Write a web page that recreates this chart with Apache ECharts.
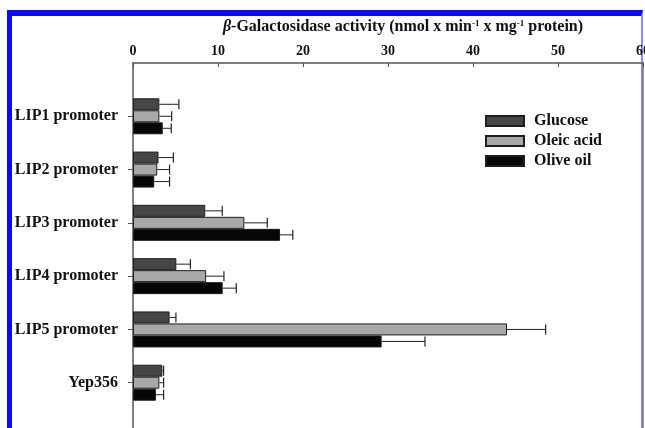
<!DOCTYPE html>
<html>
<head>
<meta charset="utf-8">
<script src="https://cdn.jsdelivr.net/npm/echarts@6/dist/echarts.min.js"></script>
<style>
  html, body { margin: 0; padding: 0; background: #ffffff; }
  #frame { position: absolute; left: 7px; top: 10px; width: 636px; height: 418px;
           border-left: 5px solid #0a0af5; border-top: 6px solid #0a0af5; border-right: 2px solid #8c8cf0; box-sizing: border-box; }
  #chart { position: absolute; left: 0; top: 0; width: 645px; height: 428px; }
</style>
</head>
<body>
<div id="frame"></div>
<div id="chart"></div>
<script>
const categories = ['LIP1 promoter', 'LIP2 promoter', 'LIP3 promoter', 'LIP4 promoter', 'LIP5 promoter', 'Yep356'];
const seriesNames = ['Glucose', 'Oleic acid', 'Olive oil'];
const glucose   = [3.1, 3.0, 8.5, 5.1, 4.3, 3.45];
const oleicAcid = [3.1, 2.85, 13.1, 8.6, 44.0, 3.1];
const oliveOil  = [3.5, 2.5, 17.3, 10.55, 29.25, 2.7];
const glucoseErrTop   = [5.4, 4.75, 10.5, 6.75, 5.05, 3.6];
const oleicAcidErrTop = [4.55, 4.3, 15.8, 10.7, 48.55, 3.6];
const oliveOilErrTop  = [4.5, 4.3, 18.8, 12.15, 34.35, 3.6];
const xTicks = [0, 10, 20, 30, 40, 50, 60];

const values = [glucose, oleicAcid, oliveOil];
const errs = [glucoseErrTop, oleicAcidErrTop, oliveOilErrTop];
const colors = ['#464646', '#a8a8a8', '#060606'];
const BAR_W = 12;
const axisCats = [''].concat(categories, ['']);
const serif = 'Liberation Serif';

const chart = echarts.init(document.getElementById('chart'), null, { renderer: 'canvas' });

const series = [];
values.forEach((vals, s) => {
  series.push({
    name: seriesNames[s],
    type: 'bar',
    barWidth: BAR_W,
    barGap: '0%',
    itemStyle: { color: colors[s], borderColor: '#1e1e1e', borderWidth: 1 },
    data: vals.map((v, i) => [v, categories[i]])
  });
});
values.forEach((vals, s) => {
  series.push({
    name: 'err' + s,
    type: 'custom',
    z: 3,
    renderItem: function (params, api) {
      const cat = api.value(1);
      const pStart = api.coord([api.value(2), cat]);
      const pEnd = api.coord([api.value(0), cat]);
      const off = (s - 1) * BAR_W;
      const y = pStart[1] + off;
      const half = 5;
      return {
        type: 'group',
        children: [
          { type: 'line', shape: { x1: pStart[0], y1: y, x2: pEnd[0], y2: y }, style: { stroke: '#222', lineWidth: 1 } },
          { type: 'line', shape: { x1: pEnd[0], y1: y - half, x2: pEnd[0], y2: y + half }, style: { stroke: '#222', lineWidth: 1.2 } }
        ]
      };
    },
    encode: { x: 0, y: 1 },
    data: errs[s].map((e, i) => [e, categories[i], vals[i]])
  });
});

chart.setOption({
  animation: false,
  backgroundColor: 'transparent',
  grid: { left: 133, right: 2, top: 63, bottom: -8, containLabel: false, outerBoundsMode: 'none' },
  legend: {
    data: seriesNames,
    orient: 'vertical',
    left: 485, top: 113, padding: 0,
    icon: 'rect',
    itemWidth: 38, itemHeight: 10, itemGap: 4,
    textStyle: { fontFamily: serif, fontWeight: 'bold', fontSize: 16, color: '#111', padding: [0, 0, 0, 5] }
  },
  xAxis: [{
    type: 'value', position: 'top', min: 0, max: 60, interval: 10,
    name: '{i|β}-Galactosidase activity (nmol x min{s|-1} x mg{s|-1} protein)',
    nameLocation: 'middle', nameGap: 28,
    nameTextStyle: {
      fontFamily: serif, fontWeight: 'bold', fontSize: 16, color: '#111', padding: [0, 0, 0, 30],
      rich: {
        i: { fontFamily: serif, fontWeight: 'bold', fontStyle: 'italic', fontSize: 16, color: '#111' },
        s: { fontFamily: serif, fontWeight: 'bold', fontSize: 9, color: '#111', padding: [0, 0, 7, 0] }
      }
    },
    axisLine: { show: true, lineStyle: { color: '#555', width: 1.5 } },
    axisTick: { show: true, inside: true, length: 4, lineStyle: { color: '#555' } },
    axisLabel: { fontFamily: serif, fontWeight: 'bold', fontSize: 14, color: '#111', margin: 5,
                 formatter: v => (xTicks.indexOf(v) >= 0 ? String(v) : '') },
    splitLine: { show: false }
  }],
  yAxis: [{
    type: 'category', inverse: true, boundaryGap: false, data: axisCats,
    axisLine: { show: true, lineStyle: { color: '#555', width: 1.5 } },
    axisTick: { show: true, length: 5, interval: (idx, v) => v !== '', lineStyle: { color: '#555' } },
    axisLabel: { fontFamily: serif, fontWeight: 'bold', fontSize: 16, color: '#111', margin: 15,
                 interval: (idx, v) => v !== '' },
    splitLine: { show: false }
  }, {
    type: 'category', position: 'right', inverse: true, boundaryGap: false, data: axisCats,
    axisLine: { show: true, lineStyle: { color: '#777', width: 1.5 } },
    axisTick: { show: false }, axisLabel: { show: false }, splitLine: { show: false }
  }],
  series: series
});
</script>
</body>
</html>
